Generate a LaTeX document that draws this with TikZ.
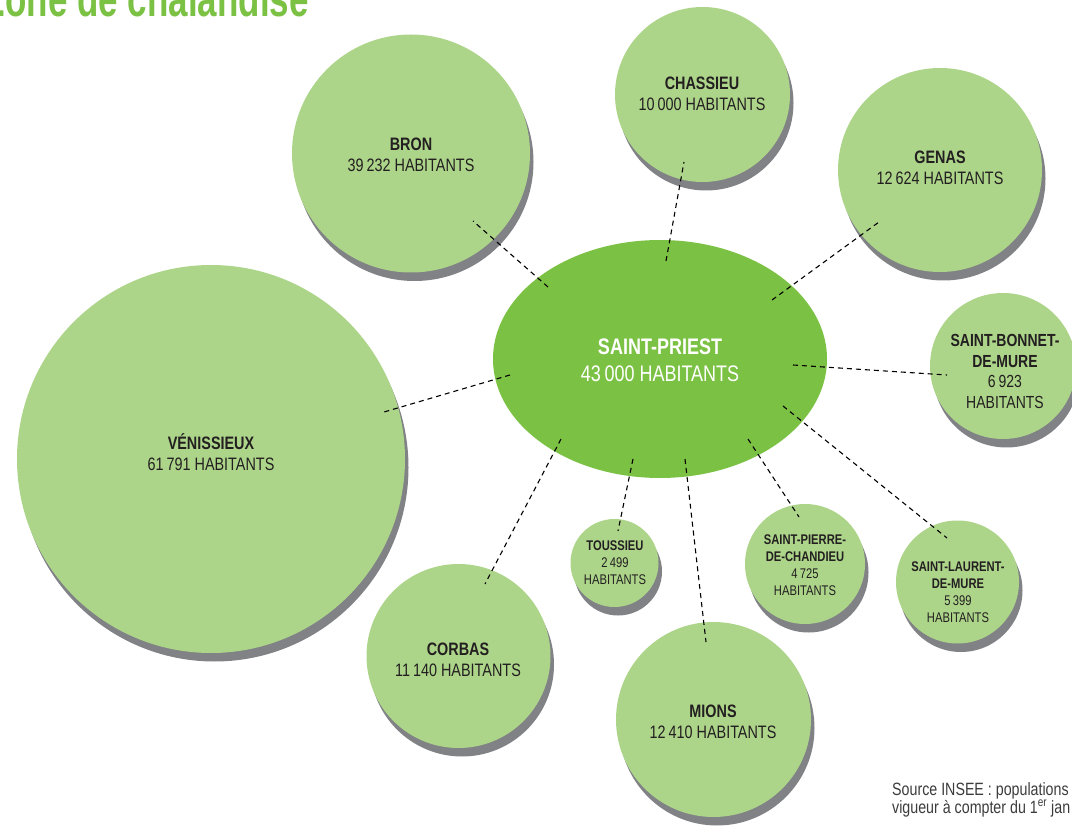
\documentclass[tikz,border=0pt]{standalone}
\usepackage{fontspec}
\setmainfont{Liberation Sans}[FakeStretch=0.8]
\newfontfamily\titlefont{Liberation Sans}[FakeStretch=0.7]
\usetikzlibrary{shapes.geometric,shadows}
\definecolor{lightgreen}{HTML}{ADD58A}
\definecolor{maingreen}{HTML}{7BC143}
\definecolor{shadowgrey}{HTML}{808285}
\definecolor{inkgrey}{HTML}{231F20}
\definecolor{srcgrey}{HTML}{3C3C3C}
\begin{document}
\begin{tikzpicture}[x=1pt,y=-1pt,
  bubble/.style={circle, fill=lightgreen, inner sep=0pt, draw=none,
    drop shadow={shadow xshift=3.5pt, shadow yshift=-8.5pt, fill=shadowgrey, opacity=1}},
  hub/.style={ellipse, fill=maingreen, inner sep=0pt, draw=none},
  bigtext/.style={inner sep=0pt, align=center, text=inkgrey, font=\fontsize{18}{21}\selectfont},
  midtext/.style={inner sep=0pt, align=center, text=inkgrey, font=\fontsize{17.5}{20.5}\selectfont},
  smalltext/.style={inner sep=0pt, align=center, text=inkgrey, font=\fontsize{14}{17}\selectfont},
  hubtext/.style={inner sep=0pt, align=center, text=white, font=\fontsize{22.5}{27}\selectfont},
  link/.style={draw=black, line width=1.1pt, dash pattern=on 5pt off 4pt}]
\useasboundingbox (0,0) rectangle (1072,826);

% title (partly outside the page)
\node[anchor=base east, inner sep=0pt, text=maingreen,
      font=\fontsize{50}{50}\titlefont\bfseries] (title) at (309,17) {Zone de chalandise};

% bubbles
\node[bubble, minimum size=388pt] (ven) at (211,459) {};
\node[bubble, minimum size=238pt] (bron) at (411,153.5) {};
\node[bubble, minimum size=175pt] (chas) at (702.5,94.5) {};
\node[bubble, minimum size=204pt] (genas) at (940,170) {};
\node[bubble, minimum size=146pt] (sbm) at (1003,366) {};
\node[bubble, minimum size=123pt] (slm) at (957.5,582) {};
\node[bubble, minimum size=120pt] (spc) at (805,564) {};
\node[bubble, minimum size=88pt] (tous) at (614.5,563) {};
\node[bubble, minimum size=195pt] (mions) at (713.5,719.5) {};
\node[bubble, minimum size=184pt] (corbas) at (458.5,656) {};
\node[hub, minimum width=334pt, minimum height=238pt] (sp) at (660,359) {};

% labels
\node[bigtext] (ven-t) at (211,452) {\textbf{VÉNISSIEUX}\\61\,791 HABITANTS};
\node[bigtext] (bron-t) at (411,155) {\textbf{BRON}\\39\,232 HABITANTS};
\node[bigtext] (chas-t) at (702,93.5) {\textbf{CHASSIEU}\\10\,000 HABITANTS};
\node[bigtext] (genas-t) at (940,167.5) {\textbf{GENAS}\\12\,624 HABITANTS};
\node[bigtext] (corbas-t) at (458,659.5) {\textbf{CORBAS}\\11\,140 HABITANTS};
\node[bigtext] (mions-t) at (713,722) {\textbf{MIONS}\\12\,410 HABITANTS};
\node[midtext] (sbm-t) at (1005,371.5) {\textbf{SAINT-BONNET-}\\\textbf{DE-MURE}\\6\,923\\HABITANTS};
\node[smalltext] (slm-t) at (958,592) {\textbf{SAINT-LAURENT-}\\\textbf{DE-MURE}\\5\,399\\HABITANTS};
\node[smalltext] (spc-t) at (805,565) {\textbf{SAINT-PIERRE-}\\\textbf{DE-CHANDIEU}\\4\,725\\HABITANTS};
\node[smalltext] (tous-t) at (615,563) {\textbf{TOUSSIEU}\\2\,499\\HABITANTS};
\node[hubtext] (sp-t) at (660,360.5) {\textbf{SAINT-PRIEST}\\43\,000 HABITANTS};

% connector end points
\coordinate (sp-bron) at (548,287);   \coordinate (bron-e) at (473,221);
\coordinate (sp-chas) at (666,261);   \coordinate (chas-e) at (684,162);
\coordinate (sp-genas) at (772,300);  \coordinate (genas-e) at (879,222);
\coordinate (sp-sbm) at (793,365);    \coordinate (sbm-e) at (947,375);
\coordinate (sp-slm) at (783,406);    \coordinate (slm-e) at (947,538);
\coordinate (sp-spc) at (748,439);    \coordinate (spc-e) at (799,517);
\coordinate (sp-mions) at (685,459);  \coordinate (mions-e) at (706,642);
\coordinate (sp-tous) at (633,459);   \coordinate (tous-e) at (618,531);
\coordinate (sp-corbas) at (561,439); \coordinate (corbas-e) at (485,584);
\coordinate (sp-ven) at (510,375);    \coordinate (ven-e) at (384,412);

\draw[link] (sp-bron) -- (bron-e);
\draw[link] (sp-chas) -- (chas-e);
\draw[link] (sp-genas) -- (genas-e);
\draw[link] (sp-sbm) -- (sbm-e);
\draw[link] (sp-slm) -- (slm-e);
\draw[link] (sp-spc) -- (spc-e);
\draw[link] (sp-mions) -- (mions-e);
\draw[link] (sp-tous) -- (tous-e);
\draw[link] (sp-corbas) -- (corbas-e);
\draw[link] (sp-ven) -- (ven-e);

% source
\node[anchor=north west, inner sep=0pt, align=left, text=srcgrey,
      font=\fontsize{17.8}{18}\selectfont] (source) at (892,782)
  {Source INSEE : populations\\vigueur à compter du 1\textsuperscript{er} jan};
\end{tikzpicture}
\end{document}
